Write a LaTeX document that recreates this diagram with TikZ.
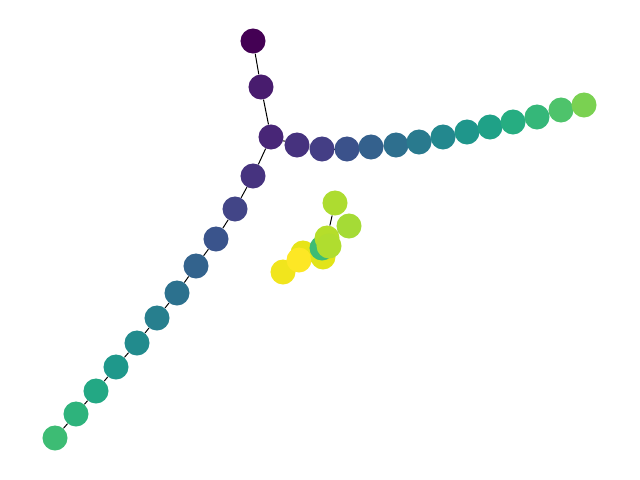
\documentclass[tikz,border=0pt]{standalone}
\usepackage{tikz}
\usetikzlibrary{backgrounds}

\begin{document}
\begin{tikzpicture}[
    x=0.025cm, y=-0.025cm,
    vnode/.style={circle, fill=#1, minimum size=0.625cm, inner sep=0pt},
    link/.style={draw=black, line width=0.7pt},
]
    \useasboundingbox (0,0) rectangle (640,480);

    % trunk
    \foreach \nm/\x/\y/\hex in {t0/253/41/440154, t1/261/87/481C6E, hub/271/137/482677} {
        \definecolor{nodefill}{HTML}{\hex}
        \node[vnode=nodefill] (\nm) at (\x,\y) {};
    }

    % lower-left arm
    \foreach \nm/\x/\y/\hex in {l1/253/176/46337F, l2/235/209/424587, l3/216/239/3A548C,
        l4/196/266/33638D, l5/177/293/2C718E, l6/157/318/277F8E, l7/137/343/228B8D,
        l8/116/367/1F988B, l9/96/391/23A884, l10/76/414/2EB37C, l11/55/438/3DBC74} {
        \definecolor{nodefill}{HTML}{\hex}
        \node[vnode=nodefill] (\nm) at (\x,\y) {};
    }

    % right arm
    \foreach \nm/\x/\y/\hex in {r1/297/145/46327E, r2/322/149/443E85, r3/347/149/3B528B,
        r4/371/147/34618D, r5/396/145/2E6F8E, r6/419/142/297A8E, r7/443/137/23888E,
        r8/467/132/1F968B, r9/490/127/1FA187, r10/513/122/26AD81, r11/537/117/35B779,
        r12/561/110/4EC36B, r13/584/105/7AD151} {
        \definecolor{nodefill}{HTML}{\hex}
        \node[vnode=nodefill] (\nm) at (\x,\y) {};
    }

    % detached cluster
    \foreach \nm/\x/\y/\hex in {c8/283/272/F1E51D, c5/303/253/E7E419, c7/299/260/FDE725,
        c6/323/257/E2E418, c4/322/248/3DBC74, c1/335/203/ADDC30, c2/349/226/A5DB36,
        c3/327/238/B5DE2B, c9/329/246/B0DD2F} {
        \definecolor{nodefill}{HTML}{\hex}
        \node[vnode=nodefill] (\nm) at (\x,\y) {};
    }

    \begin{scope}[on background layer]
        \foreach \a/\b in {t0/t1, t1/hub, hub/l1, l1/l2, l2/l3, l3/l4, l4/l5, l5/l6,
            l6/l7, l7/l8, l8/l9, l9/l10, l10/l11, hub/r1, r1/r2, r2/r3, r3/r4, r4/r5,
            r5/r6, r6/r7, r7/r8, r8/r9, r9/r10, r10/r11, r11/r12, r12/r13, c1/c3, c2/c3}
            \draw[link] (\a) -- (\b);
    \end{scope}
\end{tikzpicture}
\end{document}
